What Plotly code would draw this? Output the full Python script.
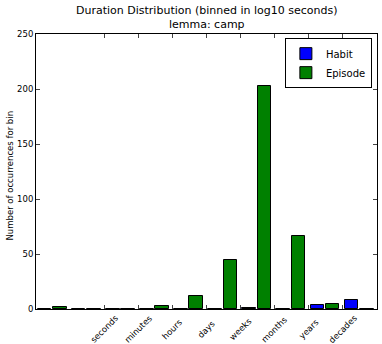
import plotly.graph_objects as go

bins = [0, 1, 2, 3, 4, 5, 6, 7, 8, 9]
habit = [0, 0, 0, 0, 0, 0, 1, 0, 4, 8]
episode = [2, 0, 0, 3, 12, 45, 203, 66, 5, 0]
tick_pos = [2, 3, 4, 5, 6, 7, 8, 9]
tick_labels = ["seconds", "minutes", "hours", "days", "weeks", "months", "years", "decades"]
title_lines = ["Duration Distribution (binned in log10 seconds)", "lemma: camp"]
y_title = "Number of occurrences for bin"

font = "DejaVu Sans"
fig = go.Figure()
fig.add_trace(go.Bar(x=bins, y=habit, name="Habit", width=0.4, offset=0.05,
                     marker=dict(color="#0000ff", line=dict(color="black", width=1))))
fig.add_trace(go.Bar(x=bins, y=episode, name="Episode", width=0.4, offset=0.5,
                     marker=dict(color="#008000", line=dict(color="black", width=1))))

fig.add_annotation(text="<br>".join(title_lines), xref="paper", yref="paper",
                   x=0.5, y=1, xanchor="center", yanchor="bottom", yshift=1,
                   showarrow=False, font=dict(size=11, family=font, color="black"))
fig.add_annotation(text=y_title, xref="paper", yref="paper", x=0, y=0.5,
                   xanchor="center", yanchor="middle", xshift=-27, yshift=-4,
                   textangle=-90, showarrow=False,
                   font=dict(size=8.5, family=font, color="black"))
for pos, lab in zip(tick_pos, tick_labels):
    fig.add_annotation(text=lab, xref="x", yref="paper", x=pos, y=0,
                       xanchor="center", yanchor="middle", yshift=-20, textangle=-45,
                       showarrow=False, font=dict(size=8.5, family=font, color="black"))

fig.update_layout(
    width=382, height=344,
    margin=dict(l=36, r=5, t=34, b=35),
    paper_bgcolor="white", plot_bgcolor="white",
    font=dict(family=font, size=8.5, color="black"),
    showlegend=True,
    legend=dict(x=0.985, xanchor="right", y=0.985, yanchor="top",
                bordercolor="black", borderwidth=1, bgcolor="white",
                font=dict(size=10, family=font), tracegroupgap=0, itemwidth=30),
    bargap=0,
)
fig.update_xaxes(range=[0, 10], tickmode="array", tickvals=tick_pos,
                 showticklabels=False, ticks="inside", ticklen=4, mirror="ticks",
                 showline=True, linecolor="black", linewidth=1, showgrid=False,
                 zeroline=False, automargin=False)
fig.update_yaxes(range=[0, 250], dtick=50, ticks="inside", ticklen=4, mirror="ticks",
                 showline=True, linecolor="black", linewidth=1, showgrid=False,
                 zeroline=False, tickfont=dict(size=8.5), automargin=False)
fig.write_html("out.html")
